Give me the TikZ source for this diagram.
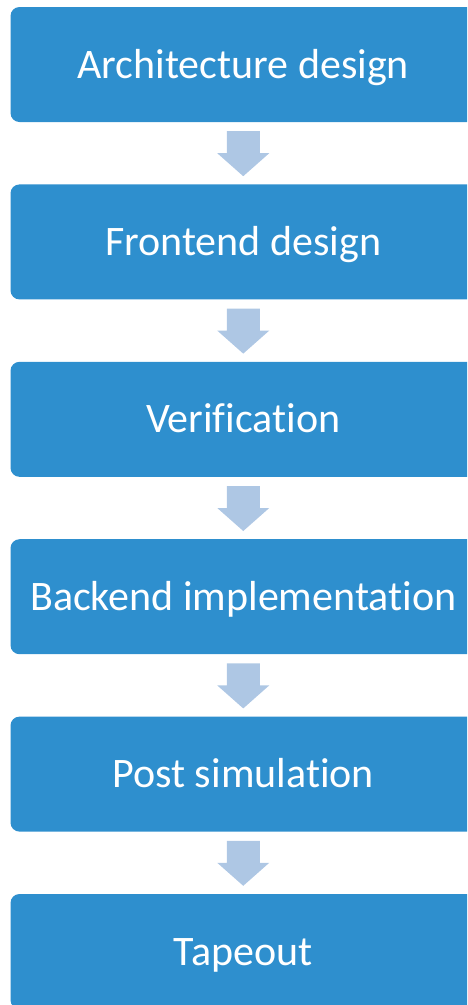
\documentclass[tikz,border=0pt]{standalone}
\usepackage{fontspec}
\setmainfont{Carlito}[Ligatures={NoCommon}]
\usetikzlibrary{calc}
\definecolor{stepblue}{RGB}{46,143,206}
\definecolor{arrowblue}{RGB}{174,199,228}
\begin{document}
\begin{tikzpicture}[x=1pt,y=-1pt,
  stage/.style={fill=stepblue, rounded corners=9pt, minimum width=465.5pt,
    minimum height=115pt, inner sep=0pt, text=white,
    text height=27.05pt, text depth=0pt,
    font=\fontsize{42}{50}\selectfont}]
\useasboundingbox (0,0) rectangle (467,1005);
\clip (0,0) rectangle (467,1005);

% process stages, top to bottom
\node[stage] (s1) at (243.25, 64.5)  {Architecture design};
\node[stage] (s2) at (243.25, 241.9) {Frontend design};
\node[stage] (s3) at (243.25, 419.3) {Verification};
\node[stage] (s4) at (243.25, 596.7) {Backend implementation};
\node[stage] (s5) at (243.25, 774.1) {Post simulation};
\node[stage] (s6) at (243.25, 951.5) {Tapeout};

% block arrows hanging below each stage
\foreach \a in {s1,s2,s3,s4,s5}{
  \fill[arrowblue]
    ($(\a.south)+(-16.5,9)$) -- ($(\a.south)+(16.5,9)$)
    -- ($(\a.south)+(16.5,31)$) -- ($(\a.south)+(26,31)$)
    -- ($(\a.south)+(0,54)$)
    -- ($(\a.south)+(-26,31)$) -- ($(\a.south)+(-16.5,31)$) -- cycle;
}
\end{tikzpicture}
\end{document}
